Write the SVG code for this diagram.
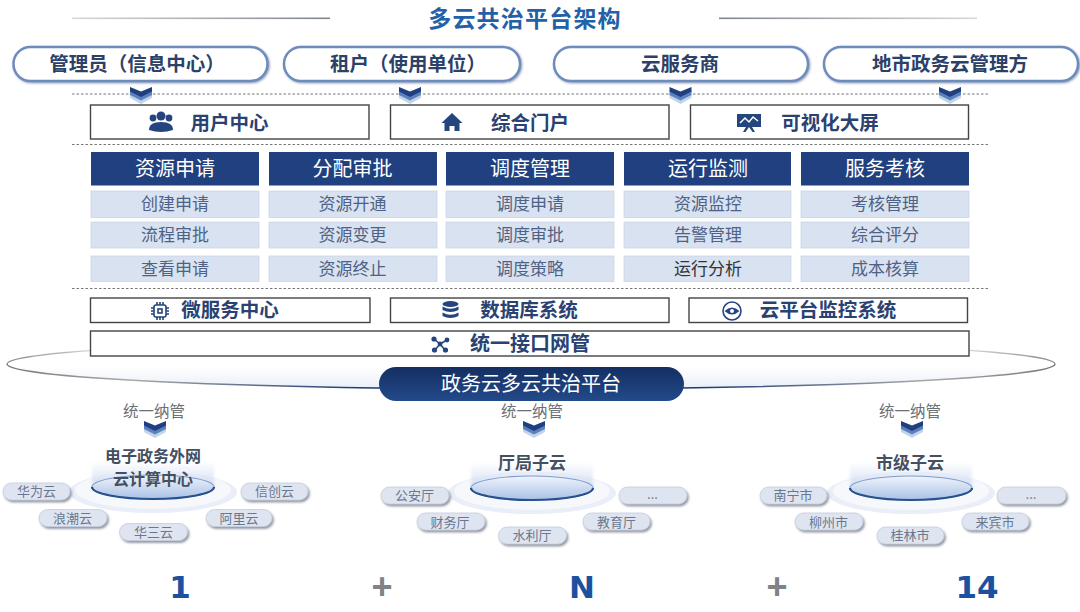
<svg xmlns="http://www.w3.org/2000/svg" width="1080" height="612" viewBox="0 0 1080 612">
<style>
text{font-family:"Noto Sans CJK SC","Liberation Sans",sans-serif;text-anchor:middle}
.title{font-size:23px;font-weight:700;fill:#2360a5;letter-spacing:1.200px}
.role{fill:#fff;stroke:#6d8cbd;stroke-width:2.500}
.rolet{font-size:19.500px;font-weight:700;fill:#2b4168}
.dash{stroke:#777;stroke-width:1;stroke-dasharray:2.500 2;fill:none}
.box{fill:#fff;stroke:#444;stroke-width:1.400}
.boxt{font-size:19.500px;font-weight:700;fill:#2a4272}
.icon{fill:#25457f}
.iconl{fill:none;stroke:#25457f;stroke-width:1.600}
.hd{fill:#20407f}
.hdt{font-size:20px;fill:#fff}
.cell{fill:#d9e2f1;stroke:#cbd4e5;stroke-width:.8}
.cellt{font-size:17px;fill:#4f6285}
.nano{font-size:15.500px;fill:#6b6f76}
.cloud{fill:#dfe5f0;stroke:#c4cddd;stroke-width:.8;filter:url(#sh)}
.cloudt{font-size:13px;fill:#69778f}
.sub{font-size:17px;font-weight:700;fill:#444f5f}
.num{font-family:"DejaVu Sans",sans-serif;font-size:31px;font-weight:700;fill:#1c51a1}
.plus{font-family:"Liberation Sans",sans-serif;font-size:36px;font-weight:700;fill:#808285}
</style>
<defs>
<filter id="sh" x="-20%" y="-30%" width="140%" height="170%"><feDropShadow dx="1.500" dy="2" stdDeviation="1" flood-color="#6d7484" flood-opacity=".75"/></filter>
<filter id="sh2" x="-5%" y="-20%" width="110%" height="140%"><feDropShadow dx="1" dy="1" stdDeviation=".8" flood-color="#3c5a90" flood-opacity=".6"/></filter>
<filter id="bl" x="-20%" y="-40%" width="140%" height="180%"><feGaussianBlur stdDeviation="1.500"/></filter>
<linearGradient id="lineL" x1="0" x2="1" y1="0" y2="0"><stop offset="0" stop-color="#d8d8d8"/><stop offset="1" stop-color="#7f8690"/></linearGradient>
<linearGradient id="lineR" x1="0" x2="1" y1="0" y2="0"><stop offset="0" stop-color="#7f8690"/><stop offset="1" stop-color="#d8d8d8"/></linearGradient>
<linearGradient id="plat" x1="0" x2="0" y1="0" y2="1"><stop offset="0" stop-color="#142f62"/><stop offset="1" stop-color="#234a8a"/></linearGradient>
<linearGradient id="disc" x1="0" x2="0" y1="0" y2="1"><stop offset="0" stop-color="#f1f4fb"/><stop offset="1" stop-color="#a9c1e6"/></linearGradient>
<linearGradient id="halo" x1="0" x2="0" y1="0" y2="1"><stop offset="0" stop-color="#d3def3" stop-opacity="0"/><stop offset="1" stop-color="#d3def3"/></linearGradient>
<linearGradient id="ringB" gradientUnits="userSpaceOnUse" x1="7" x2="1055" y1="0" y2="0"><stop offset="0" stop-color="#777"/><stop offset=".12" stop-color="#aaa"/><stop offset=".34" stop-color="#1e3a6e"/><stop offset=".66" stop-color="#1e3a6e"/><stop offset=".88" stop-color="#aaa"/><stop offset="1" stop-color="#777"/></linearGradient>
<linearGradient id="ringT" gradientUnits="userSpaceOnUse" x1="7" x2="1055" y1="0" y2="0"><stop offset="0" stop-color="#888"/><stop offset=".09" stop-color="#ddd"/><stop offset=".91" stop-color="#ddd"/><stop offset="1" stop-color="#888"/></linearGradient>
<linearGradient id="ringF" x1="0" x2="0" y1="0" y2="1"><stop offset=".55" stop-color="#e6ecf7" stop-opacity="0"/><stop offset="1" stop-color="#e6ecf7" stop-opacity=".9"/></linearGradient>
<g id="chev">
<path d="M-11 7 L0 12 L11 7 L11 11 L0 17 L-11 11Z" fill="#c3d3ea"/>
<path d="M-11 3.500 L0 9 L11 3.500 L11 8 L0 13.500 L-11 8Z" fill="#5b82bd"/>
<path d="M-11 0 L0 4.500 L11 0 L11 4.500 L0 10 L-11 4.500Z" fill="#1f3f80"/>
</g>
<g id="platform">
<ellipse cx="0" cy="5" rx="84" ry="21" fill="#e9eef8"/>
<ellipse cx="0" cy="3" rx="78" ry="19" fill="#f6f8fc"/>
<path d="M-61 0 V-26 H61 V0Z" fill="url(#halo)" filter="url(#bl)"/>
<ellipse cx="0" cy="0" rx="61" ry="12" fill="url(#disc)" stroke="#7f9ccb" stroke-width="1.200"/>
<path d="M-61 0 A61 12 0 0 0 61 0" fill="none" stroke="#27508f" stroke-width="2.200"/>
</g>
</defs>
<rect width="1080" height="612" fill="#fff"/>

<g id="title">
<rect x="72" y="17.500" width="258" height="1.600" fill="url(#lineL)"/>
<rect x="719" y="17.500" width="258" height="1.600" fill="url(#lineR)"/>
<text class="title" x="525" y="26.500">多云共治平台架构</text>
</g>

<g id="platform-ring">
<ellipse cx="531" cy="364" rx="524" ry="25" fill="url(#ringF)"/>
<path d="M7 364 A524 25 0 0 1 1055 364" fill="none" stroke="url(#ringT)" stroke-width="1.200"/>
<path d="M7 364 A524 25 0 0 0 1055 364" fill="none" stroke="url(#ringB)" stroke-width="1.500"/>
</g>

<g id="connectors">
<line class="dash" x1="72" y1="94" x2="988" y2="94"/>
<line class="dash" x1="72" y1="144.500" x2="988" y2="144.500"/>
<line class="dash" x1="72" y1="288.500" x2="988" y2="288.500"/>
<use href="#chev" x="141" y="87"/>
<use href="#chev" x="410" y="87"/>
<use href="#chev" x="680.500" y="87"/>
<use href="#chev" x="950" y="87"/>
<use href="#chev" x="155" y="421"/>
<use href="#chev" x="534" y="421"/>
<use href="#chev" x="912" y="421"/>
</g>

<g id="role-admin"><rect class="role" x="13.500" y="47" width="254" height="34" rx="17" filter="url(#sh2)"/><text class="rolet" x="137" y="71">管理员（信息中心）</text></g>
<g id="role-tenant"><rect class="role" x="284" y="47" width="236" height="34" rx="17" filter="url(#sh2)"/><text class="rolet" x="408" y="71">租户（使用单位）</text></g>
<g id="role-csp"><rect class="role" x="554" y="47" width="254" height="34" rx="17" filter="url(#sh2)"/><text class="rolet" x="680" y="71">云服务商</text></g>
<g id="role-gov"><rect class="role" x="824" y="47" width="254" height="34" rx="17" filter="url(#sh2)"/><text class="rolet" x="950" y="71">地市政务云管理方</text></g>

<g id="user-center"><rect class="box" x="90.500" y="105" width="278.500" height="34"/>
<g class="icon"><circle cx="161" cy="116" r="4.500"/><circle cx="153" cy="118" r="3.400"/><circle cx="169" cy="118" r="3.400"/><path d="M149 130 Q149 122 161 122 Q173 122 173 130 Q161 134 149 130Z"/></g>
<text class="boxt" x="229.500" y="129.500">用户中心</text></g>
<g id="portal"><rect class="box" x="390.500" y="105" width="278.500" height="34"/>
<path class="icon" d="M452 113 L462.500 123 L459.500 123 L459.500 131 L454.500 131 L454.500 126 L449.500 126 L449.500 131 L444.500 131 L444.500 123 L441.500 123Z"/>
<text class="boxt" x="530" y="129.500">综合门户</text></g>
<g id="screen"><rect class="box" x="690.500" y="105" width="278" height="34"/>
<path class="icon" d="M737 114 H761 V127 H752 L755 132 H752.500 L749 127 L745.500 132 H743 L746 127 H737Z"/>
<path d="M740 123 L745 118 L749 122 L753 117 L758 121" fill="none" stroke="#fff" stroke-width="1.500"/>
<text class="boxt" x="830" y="129.500">可视化大屏</text></g>

<g id="col1">
<rect class="hd" x="91" y="152" width="168" height="33.500"/><text class="hdt" x="175" y="176">资源申请</text>
<rect class="cell" x="91" y="191" width="168" height="26.500"/><text class="cellt" x="175" y="210">创建申请</text>
<rect class="cell" x="91" y="222" width="168" height="26"/><text class="cellt" x="175" y="241">流程审批</text>
<rect class="cell" x="91" y="256" width="168" height="25.500"/><text class="cellt" x="175" y="274.500">查看申请</text>
</g>
<g id="col2">
<rect class="hd" x="269" y="152" width="168" height="33.500"/><text class="hdt" x="352.500" y="176">分配审批</text>
<rect class="cell" x="269" y="191" width="168" height="26.500"/><text class="cellt" x="352.500" y="210">资源开通</text>
<rect class="cell" x="269" y="222" width="168" height="26"/><text class="cellt" x="352.500" y="241">资源变更</text>
<rect class="cell" x="269" y="256" width="168" height="25.500"/><text class="cellt" x="352.500" y="274.500">资源终止</text>
</g>
<g id="col3">
<rect class="hd" x="446" y="152" width="168" height="33.500"/><text class="hdt" x="530" y="176">调度管理</text>
<rect class="cell" x="446" y="191" width="168" height="26.500"/><text class="cellt" x="530" y="210">调度申请</text>
<rect class="cell" x="446" y="222" width="168" height="26"/><text class="cellt" x="530" y="241">调度审批</text>
<rect class="cell" x="446" y="256" width="168" height="25.500"/><text class="cellt" x="530" y="274.500">调度策略</text>
</g>
<g id="col4">
<rect class="hd" x="624" y="152" width="167" height="33.500"/><text class="hdt" x="708" y="176">运行监测</text>
<rect class="cell" x="624" y="191" width="167" height="26.500"/><text class="cellt" x="708" y="210">资源监控</text>
<rect class="cell" x="624" y="222" width="167" height="26"/><text class="cellt" x="708" y="241">告警管理</text>
<rect class="cell" x="624" y="256" width="167" height="25.500"/><text class="cellt" x="708" y="274.500" style="fill:#333">运行分析</text>
</g>
<g id="col5">
<rect class="hd" x="801" y="152" width="168" height="33.500"/><text class="hdt" x="885" y="176">服务考核</text>
<rect class="cell" x="801" y="191" width="168" height="26.500"/><text class="cellt" x="885" y="210">考核管理</text>
<rect class="cell" x="801" y="222" width="168" height="26"/><text class="cellt" x="885" y="241">综合评分</text>
<rect class="cell" x="801" y="256" width="168" height="25.500"/><text class="cellt" x="885" y="274.500">成本核算</text>
</g>

<g id="microservice"><rect class="box" x="90.500" y="298" width="279.500" height="24.500"/>
<g fill="none" stroke="#25457f" stroke-width="1.600"><rect x="154" y="305" width="12" height="12" rx="2"/><rect x="158" y="309" width="4" height="4"/><path d="M151 308 H154 M151 311 H154 M151 314 H154 M166 308 H169 M166 311 H169 M166 314 H169 M157 302 V305 M160 302 V305 M163 302 V305 M157 317 V320 M160 317 V320 M163 317 V320"/></g>
<text class="boxt" x="230" y="317">微服务中心</text></g>
<g id="database"><rect class="box" x="390.500" y="298" width="278.500" height="24.500"/>
<g class="icon"><ellipse cx="450.500" cy="304" rx="8" ry="3"/><path d="M442.500 306.500 Q450.500 311 458.500 306.500 V310 Q450.500 314 442.500 310Z"/><path d="M442.500 312.500 Q450.500 317 458.500 312.500 V316 Q450.500 320 442.500 316Z"/></g>
<text class="boxt" x="529" y="317">数据库系统</text></g>
<g id="monitor"><rect class="box" x="689" y="298" width="278.500" height="24.500"/>
<circle class="iconl" cx="732" cy="311" r="9"/><path class="icon" d="M724.500 311 Q732 304 739.500 311 Q732 318 724.500 311Z"/><circle cx="732" cy="311" r="2" fill="#fff"/>
<text class="boxt" x="828" y="317">云平台监控系统</text></g>
<g id="gateway"><rect class="box" x="90.500" y="331" width="878.500" height="25"/>
<g class="iconl"><path d="M440 344 L434 339 M440 344 L447 340 M440 344 L435 350 M440 344 L445 350"/></g>
<g class="icon"><circle cx="440" cy="344" r="2.400"/><circle cx="434" cy="339" r="2.600"/><circle cx="447" cy="340" r="2.400"/><circle cx="434.500" cy="350" r="2.600"/><circle cx="445.500" cy="350" r="2.600"/></g>
<text class="boxt" x="530" y="350.500" style="font-size:20px">统一接口网管</text></g>

<g id="platform-label"><rect x="379" y="367" width="305" height="34" rx="17" fill="url(#plat)"/><text x="531" y="391" style="font-size:20px;fill:#fff">政务云多云共治平台</text></g>

<g id="cluster-egov">
<text class="nano" x="154" y="417">统一纳管</text>
<use href="#platform" x="153" y="487"/>
<text class="sub" style="font-size:16px"><tspan x="153" y="461.500">电子政务外网</tspan><tspan x="153" y="485">云计算中心</tspan></text>
<rect class="cloud" x="3" y="483" width="67" height="17" rx="8.500"/><text class="cloudt" x="36.500" y="496">华为云</text>
<rect class="cloud" x="39" y="509.500" width="68" height="17" rx="8.500"/><text class="cloudt" x="72.500" y="523">浪潮云</text>
<rect class="cloud" x="119.500" y="523.500" width="68" height="17" rx="8.500"/><text class="cloudt" x="153.500" y="536.500">华三云</text>
<rect class="cloud" x="206" y="509.500" width="66" height="17" rx="8.500"/><text class="cloudt" x="239" y="523">阿里云</text>
<rect class="cloud" x="241" y="483" width="67" height="17" rx="8.500"/><text class="cloudt" x="274.500" y="496">信创云</text>
</g>

<g id="cluster-dept">
<text class="nano" x="532" y="417">统一纳管</text>
<use href="#platform" x="532" y="488"/>
<text class="sub" x="532" y="469">厅局子云</text>
<rect class="cloud" x="381" y="487" width="68" height="17" rx="8.500"/><text class="cloudt" x="414.500" y="500">公安厅</text>
<rect class="cloud" x="417" y="513" width="68" height="17" rx="8.500"/><text class="cloudt" x="450" y="526.500">财务厅</text>
<rect class="cloud" x="498.500" y="527" width="68" height="17" rx="8.500"/><text class="cloudt" x="532" y="540">水利厅</text>
<rect class="cloud" x="583" y="513" width="67" height="17" rx="8.500"/><text class="cloudt" x="616.500" y="526.500">教育厅</text>
<rect class="cloud" x="619" y="487" width="68" height="17" rx="8.500"/><text class="cloudt" x="652.500" y="499">...</text>
</g>

<g id="cluster-city">
<text class="nano" x="910" y="417">统一纳管</text>
<use href="#platform" x="911" y="488"/>
<text class="sub" x="910" y="469">市级子云</text>
<rect class="cloud" x="760" y="487" width="67" height="17" rx="8.500"/><text class="cloudt" x="793" y="500">南宁市</text>
<rect class="cloud" x="795" y="513" width="68" height="17" rx="8.500"/><text class="cloudt" x="828.500" y="526.500">柳州市</text>
<rect class="cloud" x="877" y="527" width="67" height="17" rx="8.500"/><text class="cloudt" x="910" y="540">桂林市</text>
<rect class="cloud" x="962" y="513" width="67" height="17" rx="8.500"/><text class="cloudt" x="995" y="526.500">来宾市</text>
<rect class="cloud" x="997" y="487" width="69" height="17" rx="8.500"/><text class="cloudt" x="1031" y="499">...</text>
</g>

<g id="formula">
<text class="num" x="180" y="598">1</text>
<text class="plus" x="382" y="599">+</text>
<text class="num" x="582" y="598">N</text>
<text class="plus" x="777" y="599">+</text>
<text class="num" x="977" y="598">14</text>
</g>
</svg>
